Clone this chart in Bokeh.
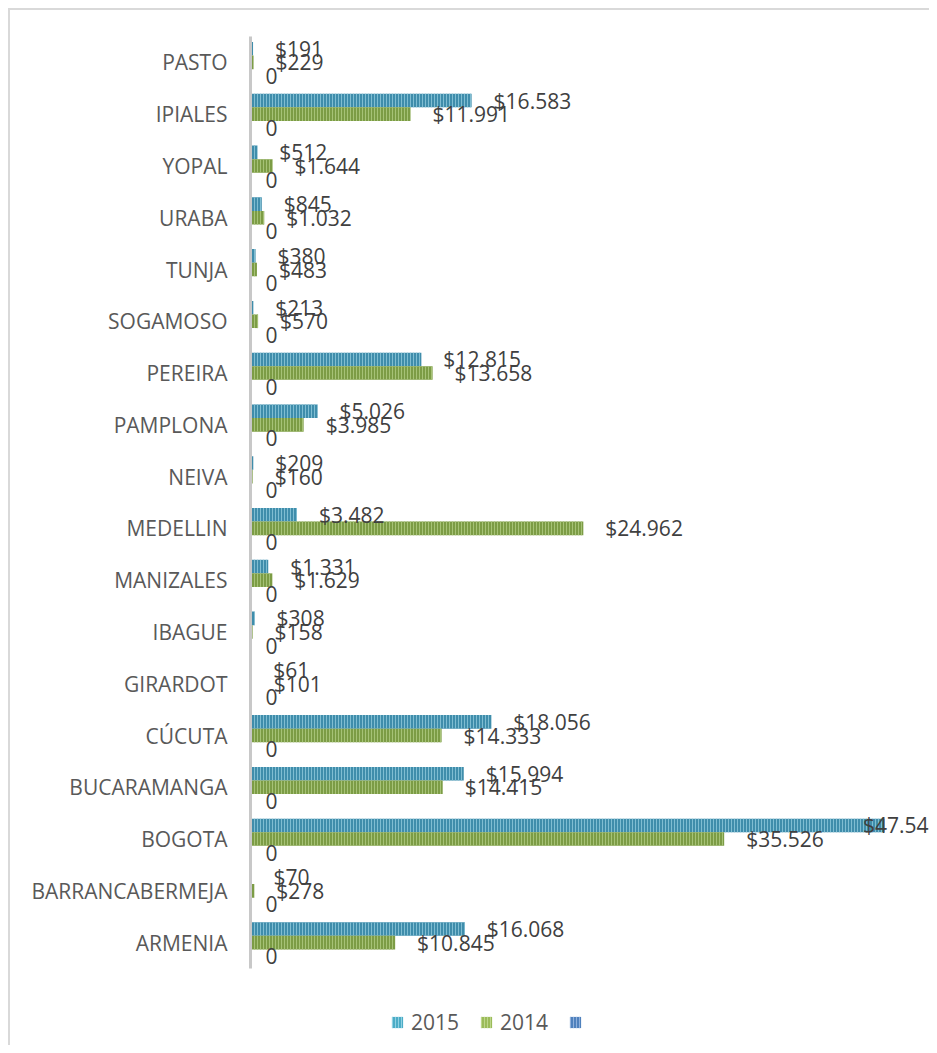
from bokeh.plotting import figure
from bokeh.models import ColumnDataSource, FactorRange, Range1d, Legend, LegendItem
from bokeh.layouts import column
from bokeh.transform import dodge
from bokeh.core.properties import value
from bokeh.embed import file_html
from bokeh.resources import INLINE

cities = ["ARMENIA", "BARRANCABERMEJA", "BOGOTA", "BUCARAMANGA", "CÚCUTA", "GIRARDOT",
          "IBAGUE", "MANIZALES", "MEDELLIN", "NEIVA", "PAMPLONA", "PEREIRA", "SOGAMOSO",
          "TUNJA", "URABA", "YOPAL", "IPIALES", "PASTO"]
v2015 = [16068, 70, 47546, 15994, 18056, 61, 308, 1331, 3482, 209, 5026, 12815, 213,
         380, 845, 512, 16583, 191]
v2014 = [10845, 278, 35526, 14415, 14333, 101, 158, 1629, 24962, 160, 3985, 13658, 570,
         483, 1032, 1644, 11991, 229]
v3 = [0] * len(cities)
series_names = ["2015", "2014", ""]

XMAX = 50925
FONT = "Open Sans"

def fmt(v):
    return "$" + f"{v:,}".replace(",", ".") if v else "0"

def lab_pos(vals):
    xs, al, off = [], [], []
    for v in vals:
        if v > 0.85 * XMAX:
            xs.append(XMAX); al.append("right"); off.append(11)
        else:
            xs.append(v); al.append("left"); off.append(22 if v else 15)
    return xs, al, off

x15, a15, o15 = lab_pos(v2015)
x14, a14, o14 = lab_pos(v2014)
x3, a3, o3 = lab_pos(v3)

src = ColumnDataSource(dict(
    cat=cities, v15=v2015, v14=v2014, v3=v3,
    t15=[fmt(v) for v in v2015], t14=[fmt(v) for v in v2014], t3=[fmt(v) for v in v3],
    x15=x15, a15=a15, o15=o15, x14=x14, a14=a14, o14=o14, x3=x3, a3=a3, o3=o3,
))

p = figure(width=929, height=990, output_backend="svg", toolbar_location=None,
           y_range=FactorRange(*cities, range_padding=0), x_range=(0, XMAX),
           min_border_left=250, min_border_right=0, min_border_top=36, min_border_bottom=22)
p.border_fill_alpha = 0
p.background_fill_alpha = 0
p.outline_line_color = None
p.grid.visible = False
p.xaxis.visible = False
p.yaxis.axis_line_color = "#c8c8c8"
p.yaxis.axis_line_width = 3
p.yaxis.major_tick_line_color = None
p.yaxis.minor_tick_line_color = None
p.yaxis.major_label_standoff = 17
p.yaxis.major_label_text_font = FONT
p.yaxis.major_label_text_font_size = "21px"
p.yaxis.major_label_text_color = "#595959"

H = 0.2625
specs = [
    ("v15", H, "#3f8dab", "#7fbdd2"),
    ("v14", 0.0, "#7c9c45", "#a6c276"),
    ("v3", -H, "#4a78b8", "#86a8d8"),
]
for col, off, fc, hc in specs:
    p.hbar(y=dodge("cat", off, range=p.y_range), right=col, left=0, height=H, source=src,
           fill_color=fc, line_color=None, hatch_pattern="vertical_line",
           hatch_color=hc, hatch_scale=3, hatch_weight=1)

for key, off in (("15", H), ("14", 0.0), ("3", -H)):
    p.text(x="x" + key, y=dodge("cat", off, range=p.y_range), text="t" + key, source=src,
           text_align="a" + key, x_offset="o" + key, text_baseline="middle",
           text_font=value(FONT), text_font_size="21px", text_color="#404040")

# legend strip (its bars sit outside its own x range, only the legend shows)
leg = figure(width=929, height=55, output_backend="svg", toolbar_location=None,
             y_range=FactorRange(*cities), x_range=Range1d(-2, -1),
             min_border_left=0, min_border_right=0, min_border_top=0, min_border_bottom=0)
leg.border_fill_alpha = 0
leg.background_fill_alpha = 0
leg.outline_line_color = None
leg.grid.visible = False
leg.axis.visible = False
leg_specs = [
    ("v15", "#4bacc6", "#8fd0e2"),
    ("v14", "#9bbb59", "#bcd68a"),
    ("v3", "#4f81bd", "#8fb0dc"),
]
rends = []
for col, fc, hc in leg_specs:
    r = leg.hbar(y="cat", right=col, left=0, height=H, source=src,
                 fill_color=fc, line_color=None, hatch_pattern="vertical_line",
                 hatch_color=hc, hatch_scale=3, hatch_weight=1)
    rends.append(r)

legend = Legend(items=[LegendItem(label=n, renderers=[r]) for n, r in zip(series_names, rends)],
                orientation="horizontal", location=(140, 9),
                glyph_width=14, glyph_height=14, label_standoff=7, spacing=20,
                label_text_font=FONT, label_text_font_size="21px", label_text_color="#595959",
                border_line_color=None, background_fill_alpha=0, padding=0, margin=0)
leg.add_layout(legend, "center")

lay = column(p, leg, spacing=0)
lay.styles = {"box-shadow": "inset 8px 8px 0 0 #ffffff, inset 10px 10px 0 0 #d9d9d9"}

open("out.html", "w").write(file_html(lay, INLINE))
